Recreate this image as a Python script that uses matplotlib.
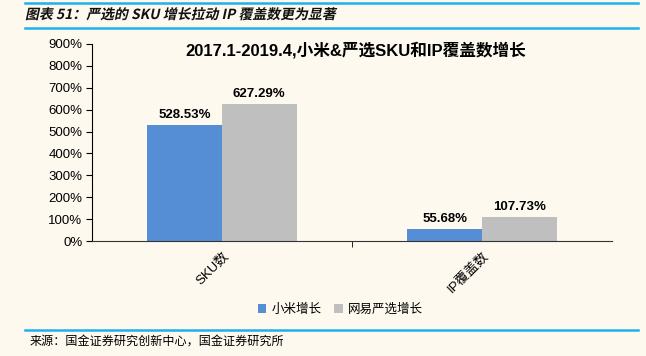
import numpy as np
import matplotlib.pyplot as plt
from matplotlib.lines import Line2D
from matplotlib.textpath import TextPath
from matplotlib.patches import PathPatch
from matplotlib.font_manager import FontProperties
from matplotlib.transforms import Affine2D

plt.rcParams['font.family'] = ['Liberation Sans', 'Noto Sans CJK SC', 'DejaVu Sans']

categories = ['SKU数', 'IP覆盖数']
xiaomi = [528.53, 55.68]
yanxuan = [627.29, 107.73]
series_names = ['小米增长', '网易严选增长']
yticks = [0, 100, 200, 300, 400, 500, 600, 700, 800, 900]

bg = '#FDF9EF'
blue = '#558ED5'
grey = '#BFBFBF'
line_blue = '#1DB0EC'

fig = plt.figure(figsize=(6.46, 3.56), dpi=100, facecolor=bg)
ax = fig.add_axes([92 / 646, 1 - 241 / 356, 520 / 646, 197 / 356])
ax.set_facecolor(bg)

ind = np.arange(len(categories))
width = 0.287
r1 = ax.bar(ind - width / 2, xiaomi, width, color=blue, label=series_names[0])
r2 = ax.bar(ind + width / 2, yanxuan, width, color=grey, label=series_names[1])

for rects in (r1, r2):
    for rect in rects:
        h = rect.get_height()
        ax.text(rect.get_x() + rect.get_width() / 2, h + 18, '%.2f%%' % h,
                ha='center', va='bottom', fontsize=9.5, fontweight='bold')

ax.set_xlim(-0.5, 1.5)
ax.set_ylim(0, 900)
ax.set_yticks(yticks)
ax.set_yticklabels(['%d%%' % v for v in yticks], fontsize=9.5)
ax.set_xticks(ind)
ax.set_xticklabels(categories, rotation=45, ha='right', rotation_mode='anchor', fontsize=9.5)
ax.set_xticks([0.5], minor=True)
ax.tick_params(axis='x', which='major', length=0, pad=6)
ax.tick_params(axis='x', which='minor', length=4, direction='out')
ax.tick_params(axis='y', length=4, direction='out', pad=3)
for s in ('top', 'right'):
    ax.spines[s].set_visible(False)
ax.spines['left'].set_color('#000000')
ax.spines['bottom'].set_color('#333333')

ax.set_title('2017.1-2019.4,小米&严选SKU和IP覆盖数增长', fontsize=12, fontweight='bold',
             y=0.9, x=0.508)

fig.legend(loc='center', bbox_to_anchor=(340 / 646, 1 - 309 / 356), ncol=2, frameon=False,
           handlelength=0.7, handleheight=0.7, columnspacing=1.0,
           handletextpad=0.4, prop={'family': ['Noto Sans CJK SC'], 'size': 9})

# header / footer
for y in (1 - 2.5 / 356, 1 - 28 / 356, 1 - 330 / 356):
    fig.add_artist(Line2D([25 / 646, 638 / 646], [y, y], color=line_blue, lw=1.8))

# slanted header title (CJK font has no italic, so shear the glyph outlines)
fp = FontProperties(family='Noto Sans CJK SC', weight='bold', size=10)
tp = TextPath((0, 0), '图表 51：严选的 SKU 增长拉动 IP 覆盖数更为显著', prop=fp)
tr = Affine2D().skew_deg(12, 0).scale(100 / 72).translate(25, 356 - 19)
fig.add_artist(PathPatch(tp, transform=tr, facecolor='#111111', edgecolor='none'))

fig.text(30 / 646, 1 - 341 / 356, '来源：国金证券研究创新中心，国金证券研究所', fontsize=8.7,
         va='center', ha='left', family=['Noto Sans CJK SC'])

plt.savefig('out.png', dpi=100, facecolor=bg)
